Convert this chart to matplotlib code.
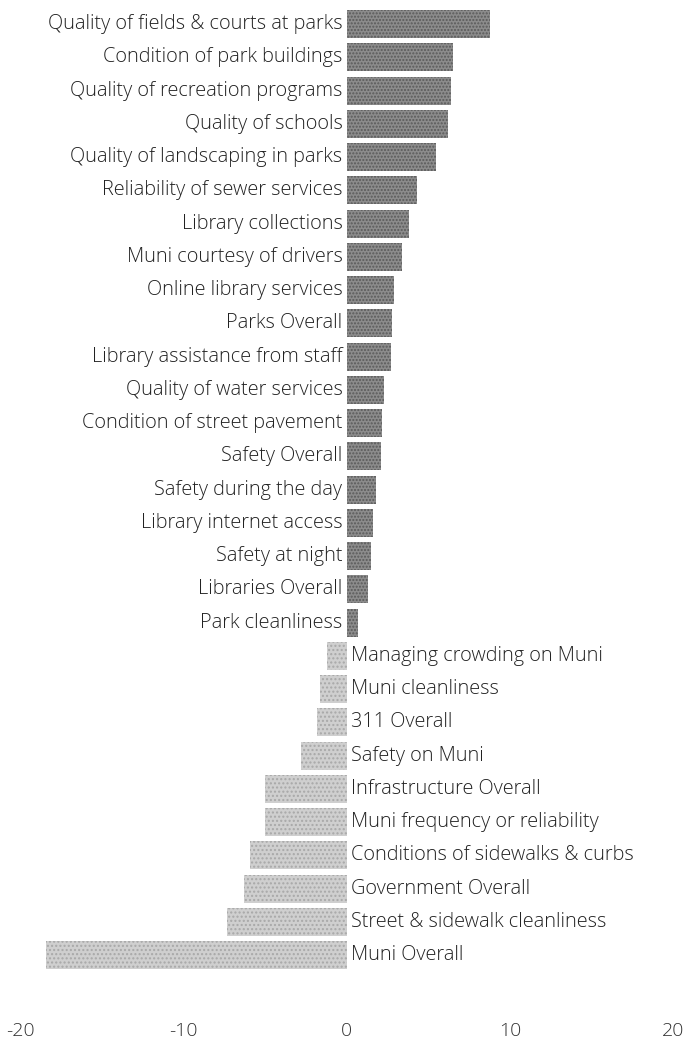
import matplotlib
matplotlib.use("Agg")
import matplotlib.pyplot as plt

plt.rcParams['font.family'] = ['Open Sans', 'DejaVu Sans']
plt.rcParams['axes.unicode_minus'] = False

labels = [
    "Quality of fields & courts at parks",
    "Condition of park buildings",
    "Quality of recreation programs",
    "Quality of schools",
    "Quality of landscaping in parks",
    "Reliability of sewer services",
    "Library collections",
    "Muni courtesy of drivers",
    "Online library services",
    "Parks Overall",
    "Library assistance from staff",
    "Quality of water services",
    "Condition of street pavement",
    "Safety Overall",
    "Safety during the day",
    "Library internet access",
    "Safety at night",
    "Libraries Overall",
    "Park cleanliness",
    "Managing crowding on Muni",
    "Muni cleanliness",
    "311 Overall",
    "Safety on Muni",
    "Infrastructure Overall",
    "Muni frequency or reliability",
    "Conditions of sidewalks & curbs",
    "Government Overall",
    "Street & sidewalk cleanliness",
    "Muni Overall",
]
values = [8.8, 6.5, 6.4, 6.2, 5.5, 4.3, 3.8, 3.4, 2.9, 2.8, 2.7, 2.3, 2.2, 2.1,
          1.8, 1.6, 1.5, 1.3, 0.7, -1.2, -1.6, -1.8, -2.8, -5.0, -5.0, -5.9,
          -6.3, -7.3, -18.4]

fig = plt.figure(figsize=(6.86, 10.47), dpi=100)
ax = fig.add_axes([0.0292, 0.0401, 0.952, 0.9528])

ypos = list(range(len(values)))
pos_col = '#8c8c8c'
neg_col = '#cfcfcf'
for y, v, lab in zip(ypos, values, labels):
    if v >= 0:
        ax.barh(y, v, height=0.84, color=pos_col, hatch='.....',
                edgecolor='#5a5a5a', linewidth=0)
        ax.text(-0.25, y, lab, ha='right', va='center', fontsize=14.3,
                fontweight='light', color='#222222')
    else:
        ax.barh(y, v, height=0.84, color=neg_col, hatch='....',
                edgecolor='#a8a8a8', linewidth=0)
        ax.text(0.3, y, lab, ha='left', va='center', fontsize=14.3,
                fontweight='light', color='#222222')

ax.set_xlim(-20, 20)
ax.set_ylim(29.5, -0.5)
ax.set_xticks([-20, -10, 0, 10, 20])
ax.set_yticks([])
ax.tick_params(axis='x', length=0, labelsize=14, labelcolor='#333333', pad=12)
for t in ax.get_xticklabels():
    t.set_fontweight('light')
for s in ax.spines.values():
    s.set_visible(False)

fig.savefig("out.png", dpi=100)
